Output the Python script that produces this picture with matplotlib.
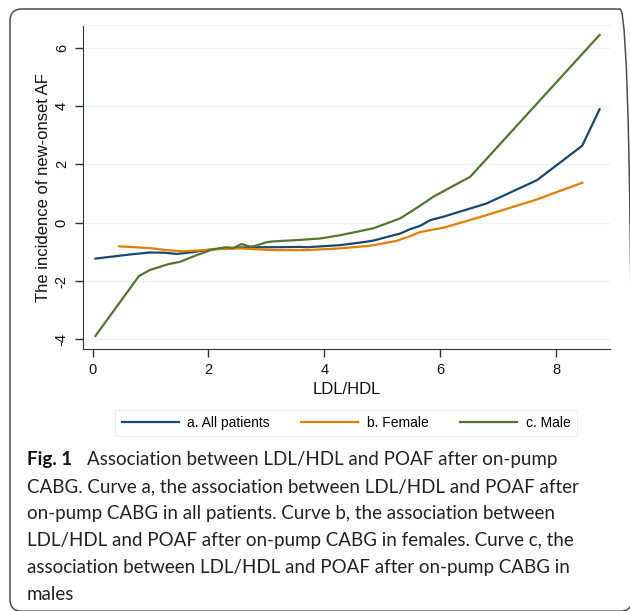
import matplotlib
matplotlib.use('Agg')
import matplotlib.pyplot as plt
from matplotlib.patches import FancyBboxPatch
import numpy as np

# curve a: all patients
x_all = [0.05, 0.64, 0.99, 1.25, 1.45, 1.68, 1.97, 2.20, 2.54, 3.00, 3.12, 3.58, 3.70,
         4.27, 4.73, 4.85, 5.31, 5.48, 5.65, 5.83, 6.06, 6.80, 7.67, 8.45, 8.75]
y_all = [-1.23, -1.09, -1.02, -1.03, -1.07, -1.02, -0.94, -0.89, -0.85, -0.84, -0.84, -0.83, -0.84,
         -0.77, -0.65, -0.61, -0.37, -0.22, -0.11, 0.09, 0.21, 0.66, 1.46, 2.64, 3.89]

# curve b: female
x_fem = [0.46, 0.99, 1.28, 1.57, 1.85, 2.08, 2.54, 3.12, 3.41, 3.70, 4.27, 4.73, 4.85,
         5.25, 5.48, 5.65, 6.06, 6.80, 7.67, 8.45]
y_fem = [-0.81, -0.87, -0.94, -0.98, -0.95, -0.91, -0.88, -0.94, -0.94, -0.94, -0.88, -0.80, -0.77,
         -0.62, -0.46, -0.32, -0.17, 0.26, 0.80, 1.37]

# curve c: male
x_male = [0.05, 0.80, 0.99, 1.31, 1.51, 1.80, 2.08, 2.31, 2.43, 2.57, 2.72, 2.80, 3.00, 3.12,
          3.58, 3.93, 4.27, 4.85, 5.31, 5.65, 5.88, 6.52, 8.75]
y_male = [-3.88, -1.83, -1.62, -1.42, -1.34, -1.11, -0.91, -0.84, -0.87, -0.73, -0.82, -0.80, -0.67, -0.64,
          -0.59, -0.54, -0.43, -0.19, 0.15, 0.58, 0.89, 1.58, 6.44]

labels = ['a. All patients', 'b. Female', 'c. Male']
colors = ['#1a476f', '#e37e00', '#55752f']
xticks = [0, 2, 4, 6, 8]
yticks = [-4, -2, 0, 2, 4, 6]

caption_lines = [
    'Association between LDL/HDL and POAF after on-pump',
    'CABG. Curve a, the association between LDL/HDL and POAF after',
    'on-pump CABG in all patients. Curve b, the association between',
    'LDL/HDL and POAF after on-pump CABG in females. Curve c, the',
    'association between LDL/HDL and POAF after on-pump CABG in',
    'males',
]

W, H = 630, 611
plt.rcParams['font.family'] = ['Liberation Sans', 'DejaVu Sans']
plt.rcParams['axes.unicode_minus'] = False
fig = plt.figure(figsize=(W / 100, H / 100), dpi=100)

ax = fig.add_axes([82.7 / W, 1 - 349 / H, (610 - 82.7) / W, (349 - 25.3) / H])

for xs, ys, c, lab in zip([x_all, x_fem, x_male], [y_all, y_fem, y_male], colors, labels):
    ax.plot(xs, ys, color=c, lw=1.6, label=lab, solid_joinstyle='round')

ax.set_xlim(-0.17, 8.93)
ax.set_ylim(-4.33, 6.77)
ax.set_xticks(xticks)
ax.set_yticks(yticks)
ax.grid(axis='y', color='#eef3f3', lw=1)
ax.set_axisbelow(True)

ax.spines['right'].set_visible(False)
ax.spines['top'].set_color('#f2f5f5')
ax.spines['left'].set_color('#333333')
ax.spines['bottom'].set_color('#333333')
ax.tick_params(axis='both', length=6, width=1, color='#333333', labelsize=10.5, labelcolor='#111111')
ax.tick_params(axis='x', pad=4)
ax.tick_params(axis='y', pad=4)
for lbl in ax.get_yticklabels():
    lbl.set_rotation(90)
    lbl.set_va('center')

ax.set_xlabel('LDL/HDL', fontsize=12, va='center', color='#111111')
ax.xaxis.set_label_coords(0.5, (349 - 390) / (349 - 25.3))
ax.set_ylabel('The incidence of new-onset AF', fontsize=12, va='center', color='#111111')
ax.yaxis.set_label_coords((43 - 82.7) / (610 - 82.7), 0.5)

leg = fig.legend(loc='center', bbox_to_anchor=(346 / W, 1 - 423 / H), ncol=3,
                 fontsize=10, handlelength=4.1, handletextpad=0.6, columnspacing=2.3,
                 borderpad=0.45, fancybox=False, frameon=True)
leg.get_frame().set_edgecolor('#e8e8e8')
leg.get_frame().set_linewidth(0.8)
for h in leg.get_lines():
    h.set_linewidth(1.6)

# caption
cap_font = ['Lato', 'DejaVu Sans']
fig.text(26.7 / W, 1 - 465 / H, 'Fig. 1', fontsize=13.5, fontweight='bold',
         family=cap_font, va='baseline', color='#111111')
for i, line in enumerate(caption_lines):
    xpos = 87.3 if i == 0 else 26.7
    fig.text(xpos / W, 1 - (465 + 27 * i) / H, line, fontsize=13.5,
             family=cap_font, va='baseline', color='#222222')

# rounded frame around the figure (right and bottom edges fall off the image)
frame = FancyBboxPatch((0.10, -0.002), 6.22, 6.022,
                       boxstyle='round,pad=0.0,rounding_size=0.12',
                       transform=fig.dpi_scale_trans, fill=False,
                       edgecolor='#4d4d4d', lw=1.1, clip_on=False)
fig.add_artist(frame)

fig.savefig('out.png', dpi=100)
